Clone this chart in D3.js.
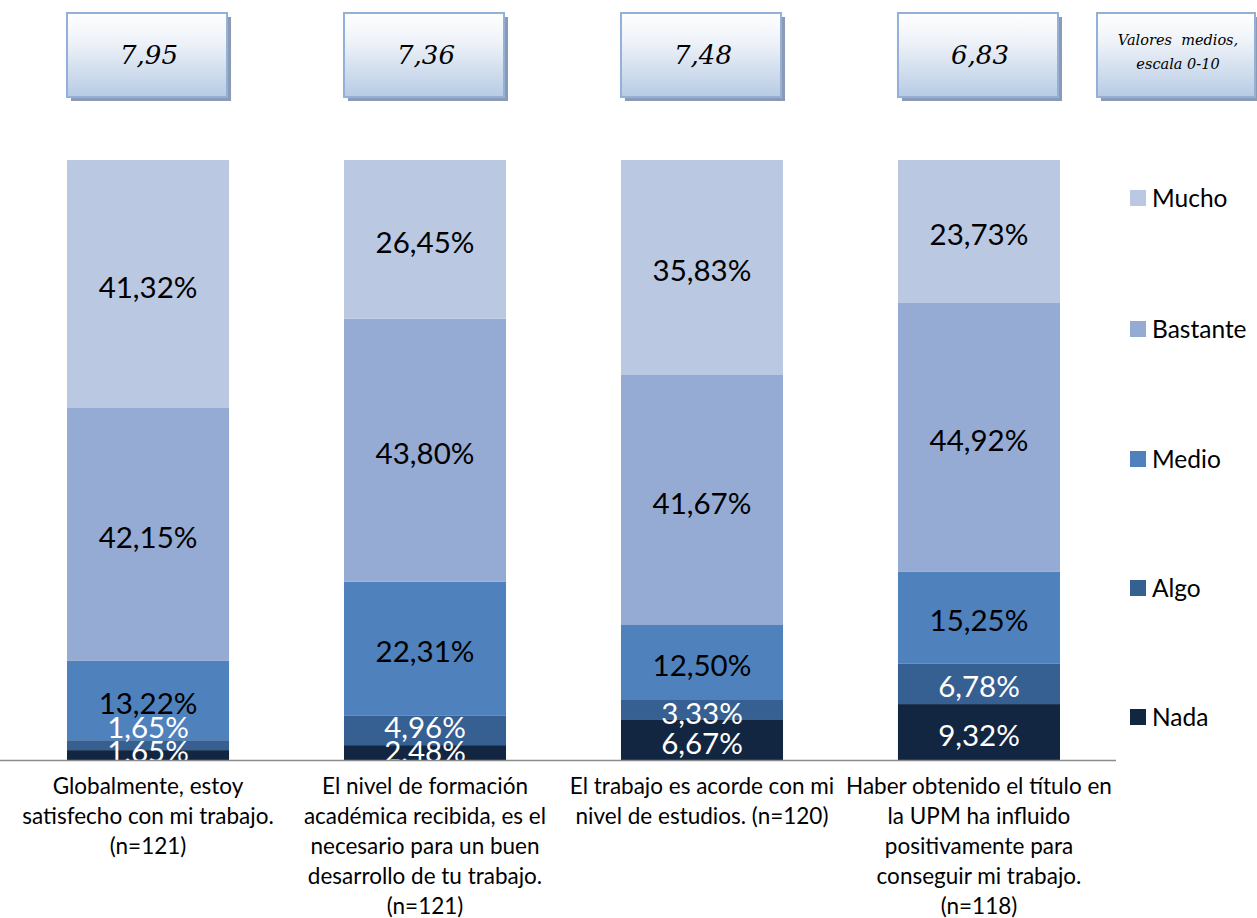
<!DOCTYPE html>
<html>
<head>
<meta charset="utf-8">
<script src="https://cdn.jsdelivr.net/npm/d3@7"></script>
<style>
  html, body { margin: 0; padding: 0; background: #ffffff; }
  svg { display: block; }
</style>
</head>
<body>
<svg id="chart" width="1257" height="918"></svg>
<script>
// ---- data ----
const categories = ["c1", "c2", "c3", "c4"];
const categoryLabels = [
  ["Globalmente, estoy", "satisfecho con mi trabajo.", "(n=121)"],
  ["El nivel de formación", "académica recibida, es el", "necesario para un buen", "desarrollo de tu trabajo.", "(n=121)"],
  ["El trabajo es acorde con mi", "nivel de estudios. (n=120)"],
  ["Haber obtenido el título en", "la UPM ha influido", "positivamente para", "conseguir mi trabajo.", "(n=118)"]
];
const seriesNames = ["Nada", "Algo", "Medio", "Bastante", "Mucho"];
const nada     = [1.65, 2.48, 6.67, 9.32];
const algo     = [1.65, 4.96, 3.33, 6.78];
const medio    = [13.22, 22.31, 12.50, 15.25];
const bastante = [42.15, 43.80, 41.67, 44.92];
const mucho    = [41.32, 26.45, 35.83, 23.73];
const meanValues = ["7,95", "7,36", "7,48", "6,83"];
const meanNote = ["Valores  medios,", "escala 0-10"];

const seriesValues = [nada, algo, medio, bastante, mucho];
const colors = ["#132641", "#366092", "#4f81bd", "#95abd4", "#bac8e1"];
const labelColors = ["#ffffff", "#ffffff", "#000000", "#000000", "#000000"];

// ---- build table ----
const table = categories.map((c, i) => {
  const row = { cat: c };
  seriesNames.forEach((s, k) => row[s] = seriesValues[k][i]);
  return row;
});
const stacked = d3.stack().keys(seriesNames)(table);

const svg = d3.select("#chart");

const x = d3.scaleBand().domain(categories).range([67, 1060]).paddingInner(0.415).paddingOuter(0);
const y = d3.scaleLinear().domain([0, 100]).range([760, 160]);

// ---- defs: gradient for boxes ----
const defs = svg.append("defs");
const grad = defs.append("linearGradient").attr("id", "boxGrad")
  .attr("x1", 0).attr("y1", 0).attr("x2", 0).attr("y2", 1);
grad.append("stop").attr("offset", "0%").attr("stop-color", "#ffffff");
grad.append("stop").attr("offset", "35%").attr("stop-color", "#eef2f8");
grad.append("stop").attr("offset", "100%").attr("stop-color", "#b7cbe4");

// ---- bars ----
const layers = svg.append("g").selectAll("g").data(stacked).join("g")
  .attr("fill", (d, i) => colors[i]);
layers.selectAll("rect").data(d => d).join("rect")
  .attr("x", d => x(d.data.cat))
  .attr("width", x.bandwidth())
  .attr("y", d => y(d[1]))
  .attr("height", d => y(d[0]) - y(d[1]));

// ---- data labels (bottom-up collision avoidance) ----
const fmt = v => d3.format(".2f")(v).replace(".", ",") + "%";
const labelG = svg.append("g")
  .attr("font-family", "Lato, 'Open Sans', sans-serif")
  .attr("font-size", 29.5)
  .attr("text-anchor", "middle");
categories.forEach((c, i) => {
  let limit = y(0) - 9;
  stacked.forEach((layer, k) => {
    const d = layer[i];
    let yy = (y(d[0]) + y(d[1])) / 2 + 3;
    if (yy > limit) yy = limit;
    limit = yy - 24;
    labelG.append("text")
      .attr("x", x(c) + x.bandwidth() / 2)
      .attr("y", yy)
      .attr("dy", "0.36em")
      .attr("fill", labelColors[k])
      .text(fmt(d[1] - d[0]));
  });
});

// ---- baseline ----
svg.append("line")
  .attr("x1", 0).attr("x2", 1116)
  .attr("y1", y(0) + 0.5).attr("y2", y(0) + 0.5)
  .attr("stroke", "#8c8c8c").attr("stroke-width", 1.5);

// ---- category labels ----
const catG = svg.append("g")
  .attr("font-family", "Lato, 'Open Sans', sans-serif")
  .attr("font-size", 22.5)
  .attr("fill", "#000")
  .attr("text-anchor", "middle");
categories.forEach((c, i) => {
  const t = catG.append("text");
  categoryLabels[i].forEach((line, j) => {
    t.append("tspan")
      .attr("x", x(c) + x.bandwidth() / 2)
      .attr("y", 786 + j * 30)
      .attr("dy", "0.35em")
      .text(line);
  });
});

// ---- mean boxes ----
const boxes = categories.map((c, i) => ({ x: x(c), w: x.bandwidth() - 2, lines: [meanValues[i]], small: false }));
boxes.push({ x: 1097, w: 158, lines: meanNote, small: true });
const boxY = 13, boxH = 84;
const boxG = svg.append("g");
boxes.forEach(b => {
  boxG.append("rect")
    .attr("x", b.x + 4).attr("y", boxY + 4)
    .attr("width", b.w).attr("height", boxH)
    .attr("fill", "#8c9bb3");
  boxG.append("rect")
    .attr("x", b.x).attr("y", boxY)
    .attr("width", b.w).attr("height", boxH)
    .attr("fill", "url(#boxGrad)")
    .attr("stroke", "#93b1d8").attr("stroke-width", 2);
  const t = boxG.append("text")
    .attr("font-family", "'DejaVu Serif', serif")
    .attr("font-style", "italic")
    .attr("font-size", b.small ? 14.5 : 26)
    .attr("fill", "#000")
    .attr("text-anchor", "middle");
  if (b.small) {
    b.lines.forEach((line, j) => {
      t.append("tspan").attr("x", b.x + b.w / 2 + 2).attr("y", 40 + j * 24)
        .attr("dy", "0.35em").style("white-space", "pre").text(line);
    });
  } else {
    t.attr("x", b.x + b.w / 2 + 2).attr("y", boxY + boxH / 2).attr("dy", "0.36em").text(b.lines[0]);
  }
});

// ---- legend ----
const legendY = [717, 588, 459, 329, 198];
const legG = svg.append("g")
  .attr("font-family", "Lato, 'Open Sans', sans-serif")
  .attr("font-size", 24.5);
seriesNames.forEach((s, k) => {
  legG.append("rect")
    .attr("x", 1130).attr("y", legendY[k] - 8)
    .attr("width", 16).attr("height", 16)
    .attr("fill", colors[k]);
  legG.append("text")
    .attr("x", 1152).attr("y", legendY[k])
    .attr("dy", "0.35em")
    .attr("fill", "#000")
    .text(s);
});
</script>
</body>
</html>
